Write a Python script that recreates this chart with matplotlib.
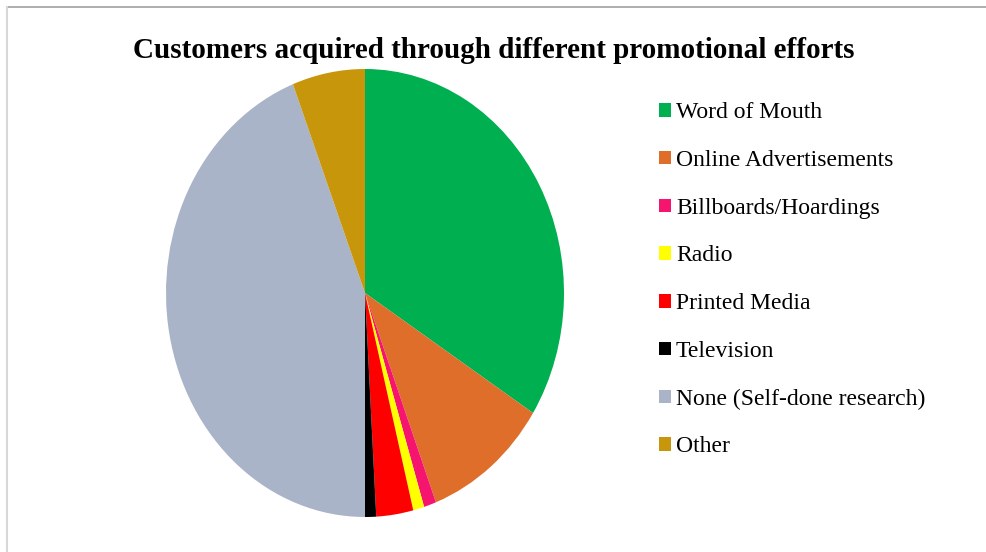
import matplotlib
matplotlib.use("Agg")
import matplotlib.pyplot as plt
from matplotlib.patches import Patch
from matplotlib.lines import Line2D

# share of customers per channel (%)
categories = ["Word of Mouth", "Online Advertisements", "Billboards/Hoardings",
              "Radio", "Printed Media", "Television",
              "None (Self-done research)", "Other"]
values = [34, 10.2, 1.0, 0.9, 3.0, 0.9, 44.1, 5.9]
colors = ["#00B050", "#DE6E2A", "#F5146E", "#FFFF00", "#FF0000", "#000000",
          "#AAB4C8", "#C8960A"]

plt.rcParams['font.family'] = ['Liberation Serif', 'DejaVu Serif']

fig = plt.figure(figsize=(9.87, 5.52), dpi=100)

# pie is drawn a little taller than wide, like the reference
cx, cy, rx, ry = 365, 293, 199, 224
W, H = 987, 552
ax = fig.add_axes([(cx - rx) / W, (H - cy - ry) / H, 2 * rx / W, 2 * ry / H])
ax.pie(values, colors=colors, startangle=90, counterclock=False, radius=1,
       wedgeprops=dict(linewidth=0))
ax.set_xlim(-1, 1)
ax.set_ylim(-1, 1)
ax.set_aspect('auto')
ax.axis('off')

fig.text(0.5, 1 - 51 / H, "Customers acquired through different promotional efforts",
         ha='center', va='center', fontsize=21, fontweight='bold')

handles = [Patch(facecolor=c, edgecolor='none') for c in colors]
fig.legend(handles, categories, loc='upper left',
           bbox_to_anchor=(650 / W, 1 - 93 / H), frameon=False,
           fontsize=17, handlelength=0.5, handleheight=0.5,
           handletextpad=0.2, labelspacing=1.13, borderaxespad=0)

# thin frame lines at top and left
fig.add_artist(Line2D([7 / W, 1], [1 - 7 / H, 1 - 7 / H], color='#A0A0A0', lw=1.2))
fig.add_artist(Line2D([7 / W, 7 / W], [0, 1 - 7 / H], color='#D8D8D8', lw=1.5))

fig.savefig("out.png", dpi=100)
